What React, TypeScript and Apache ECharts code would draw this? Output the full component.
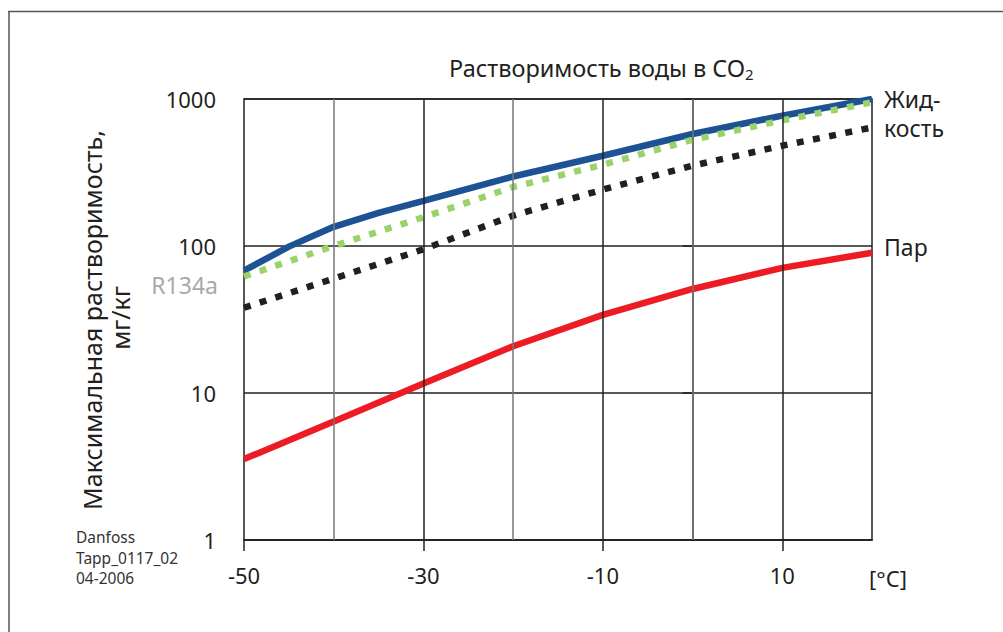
import React, { useEffect, useRef } from "react";
import * as echarts from "echarts";

// Temperatures, °C
const temps = [-50, -40, -30, -20, -10, 0, 10, 20];
const liquidTemps = [-50, -45, -40, -35, -30, -20, -10, 0, 10, 20];
// Water solubility, mg/kg (log scale)
const co2Liquid = [68, 99, 135, 168, 203, 297, 411, 578, 770, 1000];
const r134aLiquid = [62, 100, 157, 252, 357, 528, 715, 950];
const r134aVapor = [38, 60, 95, 161, 242, 352, 481, 640];
const co2Vapor = [3.55, 6.4, 11.6, 20.8, 34, 51, 71, 90];

const xTickLabels = [-50, -30, -10, 10];
const xMajorGrid = [-30, -10, 10];
const xMinorGrid = [-40, -20, 0];
const yTickLabels = [1, 10, 100, 1000];

const FONT = "'Noto Sans', sans-serif";

const pairs = (xs: number[], vals: number[]) => xs.map((t, i) => [t, vals[i]]);

export default function App() {
  const ref = useRef<HTMLDivElement>(null);
  useEffect(() => {
    if (!ref.current) return;
    const chart = echarts.init(ref.current, null, { renderer: "svg" });
    const dotStyle = (color: string) => ({
      color,
      width: 6.5,
      type: [7, 9.5] as any,
      cap: "butt" as const,
    });
    const txt = (text: string, x: number, y: number, size: number, extra: any = {}) => ({
      type: "text",
      x,
      y,
      style: {
        text,
        fontSize: size,
        fontFamily: FONT,
        fill: "#231f20",
        verticalAlign: "middle",
        ...extra,
      },
    });
    const gridLines = (vals: number[], color: string) => ({
      type: "line",
      data: [],
      silent: true,
      z: 1,
      markLine: {
        silent: true,
        symbol: "none",
        label: { show: false },
        animation: false,
        lineStyle: { color, width: 1.5, type: "solid" },
        data: vals.map((v) => ({ xAxis: v })),
      },
    });
    chart.setOption({
      animation: false,
      backgroundColor: "#ffffff",
      textStyle: { fontFamily: FONT },
      grid: {
        left: 244,
        top: 99,
        right: 131,
        bottom: 92,
        show: true,
        borderColor: "#222",
        borderWidth: 1.5,
        backgroundColor: "transparent",
      },
      xAxis: {
        type: "value",
        min: -50,
        max: 20,
        interval: 10,
        axisLine: { show: true, lineStyle: { color: "#222", width: 1.5 } },
        axisTick: {
          show: true,
          inside: false,
          length: 11,
          customValues: xTickLabels,
          lineStyle: { color: "#222", width: 1.5 },
        },
        axisLabel: {
          customValues: xTickLabels,
          margin: 24,
          fontSize: 22,
          color: "#231f20",
          fontFamily: FONT,
          formatter: (v: number) => String(v),
        },
        splitLine: { show: false },
      },
      yAxis: {
        type: "log",
        logBase: 10,
        min: 1,
        max: 1000,
        axisLine: { show: true, lineStyle: { color: "#222", width: 1.5 } },
        axisTick: {
          show: true,
          inside: false,
          length: 10,
          lineStyle: { color: "#222", width: 1.5 },
        },
        axisLabel: {
          margin: 28,
          fontSize: 22,
          color: "#231f20",
          fontFamily: FONT,
          formatter: (v: number) =>
            yTickLabels.includes(Math.round(v)) ? String(Math.round(v)) : "",
        },
        splitLine: { show: true, lineStyle: { color: "#222", width: 1.5 } },
        minorTick: { show: false },
      },
      series: [
        gridLines(xMinorGrid, "#777"),
        gridLines(xMajorGrid, "#222"),
        {
          name: "Пар",
          type: "line",
          z: 3,
          data: pairs(temps, co2Vapor),
          symbol: "none",
          lineStyle: { color: "#ed1c24", width: 6.5 },
        },
        {
          name: "R134a пар",
          type: "line",
          z: 3,
          data: pairs(temps, r134aVapor),
          symbol: "none",
          lineStyle: dotStyle("#231f20"),
        },
        {
          name: "Жидкость",
          type: "line",
          z: 3,
          data: pairs(liquidTemps, co2Liquid),
          symbol: "none",
          lineStyle: { color: "#1d5294", width: 6.5 },
        },
        {
          name: "R134a жидкость",
          type: "line",
          z: 3,
          data: pairs(temps, r134aLiquid),
          symbol: "none",
          lineStyle: dotStyle("#9ad26b"),
        },
      ],
      graphic: [
        {
          type: "line",
          shape: { x1: 8, y1: 11.5, x2: 1003, y2: 11.5 },
          style: { stroke: "#555", lineWidth: 1.5 },
        },
        {
          type: "line",
          shape: { x1: 9, y1: 11.5, x2: 9, y2: 632 },
          style: { stroke: "#555", lineWidth: 1.5 },
        },
        txt("Растворимость воды в CO{sub|2}", 449, 68, 23.5, {
          rich: {
            sub: {
              fontSize: 15,
              fontFamily: FONT,
              fill: "#231f20",
              padding: [12, 0, 0, 0],
            },
          },
        }),
        {
          ...txt("Максимальная растворимость,", 92, 320, 25, {
            align: "center",
          }),
          rotation: Math.PI / 2,
        },
        {
          ...txt("мг/кг", 120, 318, 25, { align: "center" }),
          rotation: Math.PI / 2,
        },
        txt("R134a", 218, 285, 23, { fill: "#a7a9ac", align: "right" }),
        txt("Жид-", 884, 99, 23),
        txt("кость", 884, 128, 23),
        txt("Пар", 884, 247, 23),
        txt("[°C]", 888, 578, 22, { align: "center" }),
        txt("Danfoss", 76, 537, 15.5, { fill: "#333" }),
        txt("Tapp_0117_02", 76, 557.5, 15.5, { fill: "#333" }),
        txt("04-2006", 76, 578, 15.5, { fill: "#333" }),
      ],
    });
    return () => chart.dispose();
  }, []);
  return (
    <div
      ref={ref}
      style={{ position: "fixed", left: 0, top: 0, width: 1003, height: 632 }}
    />
  );
}
